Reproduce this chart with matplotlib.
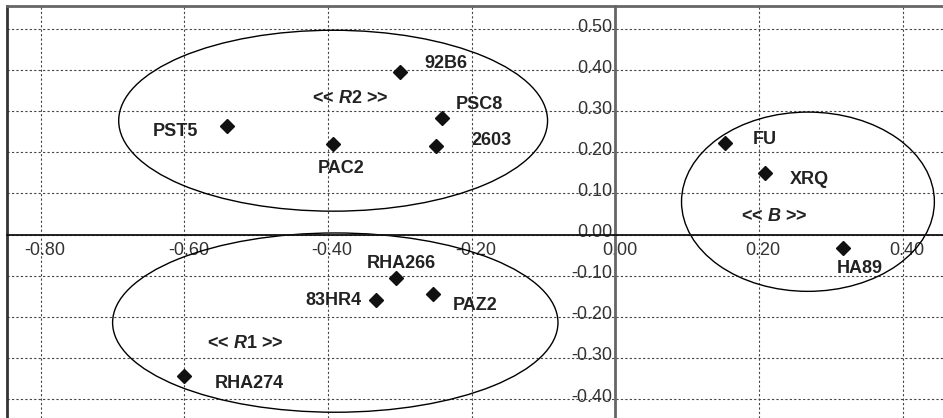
import matplotlib
matplotlib.use("Agg")
import matplotlib.pyplot as plt
from matplotlib.patches import Ellipse
from matplotlib.lines import Line2D
from matplotlib.transforms import ScaledTranslation
import numpy as np

plt.rcParams['font.family'] = ['Liberation Sans', 'DejaVu Sans']
plt.rcParams['mathtext.fontset'] = 'custom'
plt.rcParams['mathtext.it'] = 'Liberation Sans:bold:italic'
plt.rcParams['mathtext.rm'] = 'Liberation Sans:bold'
plt.rcParams['mathtext.bf'] = 'Liberation Sans:bold'

# Data
names = ['92B6', 'PST5', 'PAC2', 'PSC8', '2603', 'FU', 'XRQ', 'HA89',
         'RHA266', '83HR4', 'PAZ2', 'RHA274']
x_vals = [-0.300, -0.541, -0.393, -0.242, -0.250, 0.152, 0.208, 0.317,
          -0.306, -0.334, -0.254, -0.601]
y_vals = [0.395, 0.264, 0.220, 0.283, 0.215, 0.223, 0.150, -0.033,
          -0.106, -0.159, -0.145, -0.344]
# label offsets (points)
label_dx = [33, -37, 6, 27, 40, 29, 32, 12, 4, -30, 30, 47]
label_dy = [6.5, -3.6, -17.3, 10, 4.3, 2.2, -5, -14.4, 10.8, -0.7, -7.9, -5]

x_ticks = [-0.80, -0.60, -0.40, -0.20, 0.00, 0.20, 0.40]
y_ticks = [-0.40, -0.30, -0.20, -0.10, 0.00, 0.10, 0.20, 0.30, 0.40, 0.50]

groups = ['R2', 'R1', 'B']
group_cx = [-0.393, -0.390, 0.268]
group_cy = [0.277, -0.214, 0.080]
group_w = [0.597, 0.620, 0.352]
group_h = [0.440, 0.436, 0.436]
group_lx = [-0.370, -0.515, 0.2205]
group_ly = [0.332, -0.264, 0.043]

W, H = 943, 418
fig = plt.figure(figsize=(W / 100, H / 100), dpi=100)
ax = fig.add_axes([7 / W, 0, 1 - 7 / W, 1 - 6 / H])
ax.set_xlim(-0.847, 0.456)
ax.set_ylim(-0.446, 0.556)

# grid
ax.set_xticks(x_ticks)
ax.set_yticks(y_ticks)
ax.grid(True, linestyle=(0, (2, 2)), color='#444444', linewidth=0.8)
ax.set_axisbelow(True)

# spines: axes crossing at origin
ax.spines['left'].set_position(('data', 0))
ax.spines['bottom'].set_position(('data', 0))
ax.spines['left'].set_color('#666666')
ax.spines['left'].set_linewidth(2)
ax.spines['bottom'].set_color('#111111')
ax.spines['bottom'].set_linewidth(1.3)
ax.spines['right'].set_visible(False)
ax.spines['top'].set_color('#666666')
ax.spines['top'].set_linewidth(2)
# outer left frame
ax.add_line(Line2D([0, 0], [0, 1], transform=ax.transAxes, color='#333333',
                   linewidth=2, clip_on=False))

ax.set_xticklabels([f'{v:.2f}' for v in x_ticks])
ax.set_yticklabels([f'{v:.2f}' for v in y_ticks])
ax.tick_params(axis='both', length=0, labelsize=13, labelcolor='#333333')
ax.tick_params(axis='x', pad=5)
ax.tick_params(axis='y', pad=2)
for lab in ax.get_xticklabels():
    lab.set_transform(lab.get_transform() + ScaledTranslation(4 / 100, 0, fig.dpi_scale_trans))
for lab in ax.get_yticklabels():
    lab.set_transform(lab.get_transform() + ScaledTranslation(0, 4 / 100, fig.dpi_scale_trans))

# ellipses
for cx, cy, w, h in zip(group_cx, group_cy, group_w, group_h):
    ax.add_patch(Ellipse((cx, cy), w, h, fill=False, edgecolor='black', linewidth=1.0))

# points
ax.plot(x_vals, y_vals, linestyle='none', marker='D', markersize=7,
        color='#111111', zorder=5)

for n, x, y, dx, dy in zip(names, x_vals, y_vals, label_dx, label_dy):
    ax.annotate(n, (x, y), xytext=(dx, dy), textcoords='offset points',
                ha='center', va='center', fontsize=13, fontweight='bold',
                color='#222222')

for g, lx, ly in zip(groups, group_lx, group_ly):
    ax.text(lx, ly, '<< $\\mathit{' + g + '}$ >>', ha='center', va='center',
            fontsize=13, fontweight='bold', color='#222222')

fig.savefig('out.png', dpi=100)
